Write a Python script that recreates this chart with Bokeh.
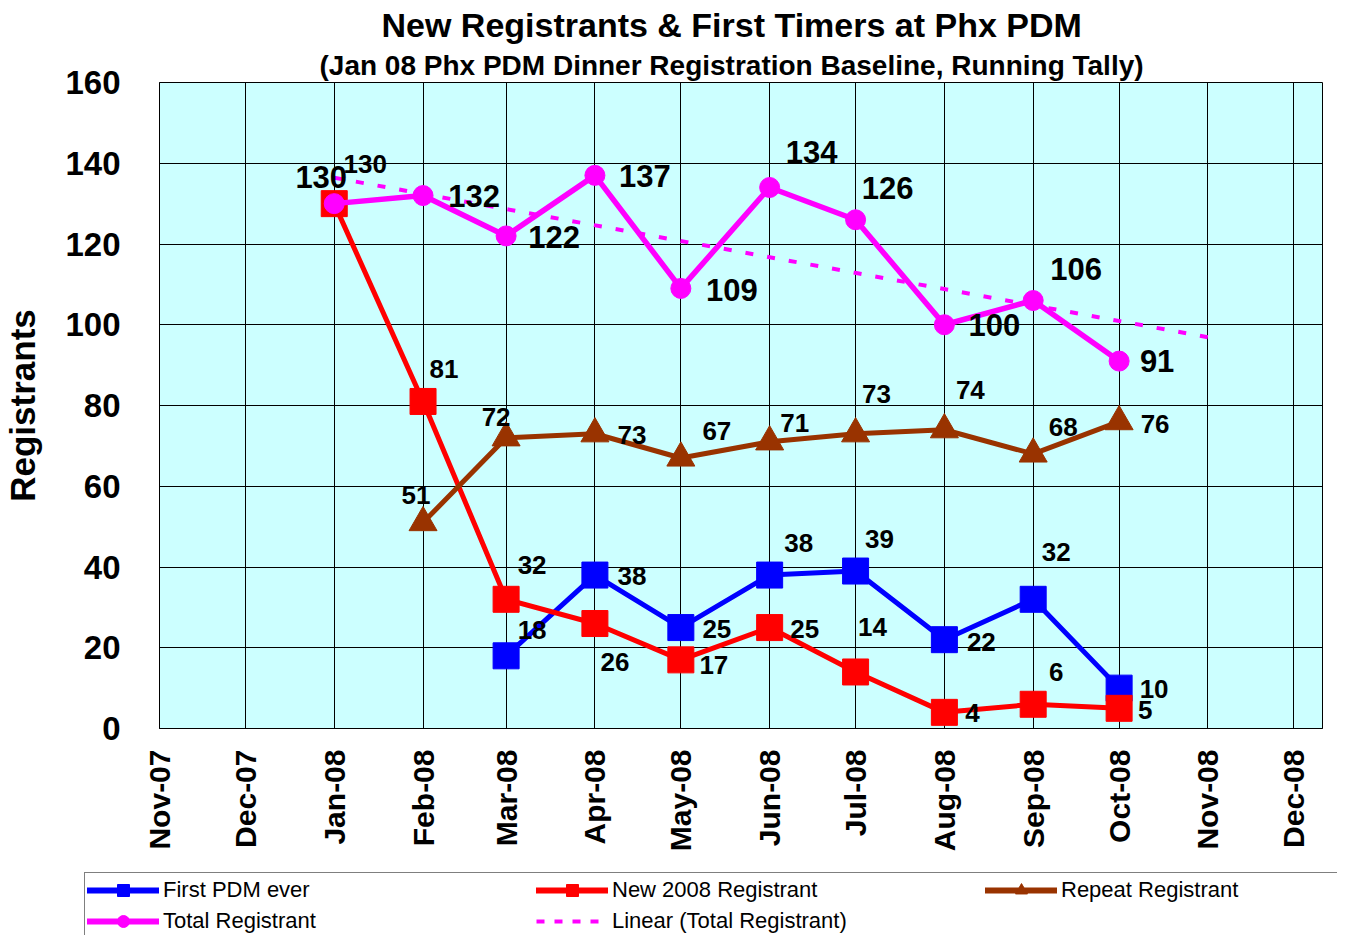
import numpy as np
from datetime import datetime
from bokeh.plotting import figure
from bokeh.layouts import column, row
from bokeh.core.properties import value
from bokeh.models import (ColumnDataSource, Range1d, FixedTicker, DatetimeTickFormatter,
                          LabelSet, Legend, LegendItem, Title)
from bokeh.embed import file_html
from bokeh.resources import INLINE

# ---------------- data ----------------
axis_months = ["Nov-07", "Dec-07", "Jan-08", "Feb-08", "Mar-08", "Apr-08", "May-08",
               "Jun-08", "Jul-08", "Aug-08", "Sep-08", "Oct-08", "Nov-08", "Dec-08"]

total_months = ["Jan-08", "Feb-08", "Mar-08", "Apr-08", "May-08", "Jun-08", "Jul-08",
                "Aug-08", "Sep-08", "Oct-08"]
total_values = [130, 132, 122, 137, 109, 134, 126, 100, 106, 91]

new_months = ["Jan-08", "Feb-08", "Mar-08", "Apr-08", "May-08", "Jun-08", "Jul-08",
              "Aug-08", "Sep-08", "Oct-08"]
new_values = [130, 81, 32, 26, 17, 25, 14, 4, 6, 5]

first_months = ["Mar-08", "Apr-08", "May-08", "Jun-08", "Jul-08", "Aug-08", "Sep-08", "Oct-08"]
first_values = [18, 38, 25, 38, 39, 22, 32, 10]

repeat_months = ["Feb-08", "Mar-08", "Apr-08", "May-08", "Jun-08", "Jul-08", "Aug-08",
                 "Sep-08", "Oct-08"]
repeat_values = [51, 72, 73, 67, 71, 73, 74, 68, 76]

trend_end_month = "Nov-08"   # Excel linear trendline, forecast forward one period
y_ticks = [0, 20, 40, 60, 80, 100, 120, 140, 160]

series_names = ["First PDM ever", "New 2008 Registrant", "Repeat Registrant",
                "Total Registrant", "Linear (Total Registrant)"]

# label offsets (pixels, placement only)
total_dx = [-13, 51, 48, 50, 51, 42, 32, 50, 43, 38]
total_dy = [27, 0, -1, -1, -2, 35, 32, 0, 32, 0]
new_dx = [31, 21, 26, 20, 33, 35, 17, 28, 23, 26]
new_dy = [40, 32, 34, -38, -5, -1, 45, -1, 32, -2]
first_dx = [26, 37, 36, 29, 24, 37, 23, 35]
first_dy = [26, -1, -1, 32, 32, -2, 47, -1]
repeat_dx = [-7, -10, 37, 36, 25, 21, 26, 30, 36]
repeat_dy = [28, 21, -1, 27, 19, 40, 40, 27, -2]

# ---------------- helpers ----------------
def to_dt(m):
    return datetime.strptime(m, "%b-%y")

EPOCH = datetime(1970, 1, 1)
def to_ms(d):
    return (d - EPOCH).total_seconds() * 1000.0

FONT = "Liberation Sans"
BLUE, RED, BROWN, MAGENTA = "#0000FF", "#FF0000", "#993300", "#FF00FF"

p = figure(width=1337, height=862, x_axis_type="datetime",
           x_range=Range1d(datetime(2007, 11, 1), datetime(2008, 12, 11)),
           y_range=Range1d(0, 160), title=None,
           output_backend="svg", toolbar_location=None,
           min_border_left=158, min_border_right=15, min_border_top=82, min_border_bottom=134,
           background_fill_color="#CCFFFF", border_fill_color="white",
           outline_line_color="black", outline_line_width=1)

# titles
p.add_layout(Title(text="(Jan 08 Phx PDM Dinner Registration Baseline, Running Tally)",
                   align="left", offset=160, text_font=FONT, text_font_size="28px",
                   text_font_style="bold", text_color="black", standoff=4), "above")
p.add_layout(Title(text="New Registrants & First Timers at Phx PDM",
                   align="left", offset=222, text_font=FONT, text_font_size="34px",
                   text_font_style="bold", text_color="black", standoff=4), "above")

# axes
x_ticks_ms = [to_ms(to_dt(m)) for m in axis_months]
fmt = "%b-%y"
p.xaxis.ticker = FixedTicker(ticks=x_ticks_ms)
p.xaxis.formatter = DatetimeTickFormatter(milliseconds=fmt, seconds=fmt, minsec=fmt, minutes=fmt,
                                          hourmin=fmt, hours=fmt, days=fmt, months=fmt, years=fmt)
p.xaxis.major_label_orientation = np.pi / 2
p.xaxis.major_label_text_font = FONT
p.xaxis.major_label_text_font_size = "30px"
p.xaxis.major_label_text_font_style = "bold"
p.xaxis.major_label_text_color = "black"
p.xaxis.major_label_standoff = 21

p.yaxis.ticker = FixedTicker(ticks=y_ticks)
p.yaxis.major_label_text_font = FONT
p.yaxis.major_label_text_font_size = "33px"
p.yaxis.major_label_text_font_style = "bold"
p.yaxis.major_label_text_color = "black"
p.yaxis.major_label_standoff = 39
p.yaxis.axis_label = "Registrants"
p.yaxis.axis_label_text_font = FONT
p.yaxis.axis_label_text_font_size = "35px"
p.yaxis.axis_label_text_font_style = "bold"
p.yaxis.axis_label_text_color = "black"
p.yaxis.axis_label_standoff = 20

for ax in (p.xaxis, p.yaxis):
    ax.major_tick_in = 0
    ax.major_tick_out = 0
    ax.minor_tick_in = 0
    ax.minor_tick_out = 0
    ax.axis_line_color = "black"

p.xgrid.ticker = FixedTicker(ticks=x_ticks_ms)
p.ygrid.ticker = FixedTicker(ticks=y_ticks)
for g in (p.xgrid, p.ygrid):
    g.grid_line_color = "black"
    g.grid_line_alpha = 1.0
    g.grid_line_width = 1

# ---------------- series ----------------
def make_src(months, values, dx, dy):
    return ColumnDataSource(dict(x=[to_dt(m) for m in months], y=values,
                                 lbl=[str(v) for v in values], dx=dx, dy=dy))

src_first = make_src(first_months, first_values, first_dx, first_dy)
src_new = make_src(new_months, new_values, new_dx, new_dy)
src_repeat = make_src(repeat_months, repeat_values, repeat_dx, repeat_dy)
src_total = make_src(total_months, total_values, total_dx, total_dy)

# trendline computed from the Total series (least squares on dates)
t0 = to_dt(total_months[0])
t_days = np.array([(to_dt(m) - t0).days for m in total_months], dtype=float)
slope, intercept = np.polyfit(t_days, np.array(total_values, dtype=float), 1)
trend_x = [t0, to_dt(trend_end_month)]
trend_y = [intercept + slope * (d - t0).days for d in trend_x]

p.line("x", "y", source=src_first, line_color=BLUE, line_width=5)
p.scatter("x", "y", source=src_first, marker="square", size=26, fill_color=BLUE, line_color=BLUE)
p.line("x", "y", source=src_new, line_color=RED, line_width=5)
p.scatter("x", "y", source=src_new, marker="square", size=26, fill_color=RED, line_color=RED)
p.line("x", "y", source=src_repeat, line_color=BROWN, line_width=5)
p.scatter("x", "y", source=src_repeat, marker="triangle", size=28, fill_color=BROWN, line_color=BROWN)
p.line(trend_x, trend_y, line_color=MAGENTA, line_width=4, line_dash="8 14")
p.line("x", "y", source=src_total, line_color=MAGENTA, line_width=5.5)
p.scatter("x", "y", source=src_total, marker="circle", size=20, fill_color=MAGENTA, line_color=MAGENTA)

# data labels
for src, fs in ((src_first, "26px"), (src_new, "26px"), (src_repeat, "26px"), (src_total, "31px")):
    p.add_layout(LabelSet(x="x", y="y", text="lbl", source=src, x_offset="dx", y_offset="dy",
                          text_align="center", text_baseline="middle", text_font=value(FONT),
                          text_font_size=value(fs), text_font_style="bold", text_color="black"))

# ---------------- legend strip (separate figure) ----------------
lg = figure(width=1337, height=73, x_range=Range1d(0, 1), y_range=Range1d(0, 1),
            output_backend="svg", toolbar_location=None, title=None,
            x_axis_location=None, y_axis_location=None,
            min_border_left=0, min_border_right=0, min_border_top=0, min_border_bottom=0,
            outline_line_color=None, background_fill_color="white", border_fill_color="white")
lg.xgrid.visible = False
lg.ygrid.visible = False

NAN = [float("nan")]   # legend-only renderers: nothing is drawn in the strip itself

def lg_line(color, width, dash="solid"):
    return lg.line(NAN, NAN, line_color=color, line_width=width, line_dash=dash,
                   line_cap="round" if dash == "solid" else "butt")

def lg_mark(marker, size, color):
    return lg.scatter(NAN, NAN, marker=marker, size=size, fill_color=color, line_color=color)

items = [
    LegendItem(label=series_names[0], renderers=[lg_line(BLUE, 6), lg_mark("square", 20, BLUE)]),
    LegendItem(label=series_names[1], renderers=[lg_line(RED, 6), lg_mark("square", 20, RED)]),
    LegendItem(label=series_names[2], renderers=[lg_line(BROWN, 6), lg_mark("triangle", 18, BROWN)]),
    LegendItem(label=series_names[3], renderers=[lg_line(MAGENTA, 6), lg_mark("circle", 13, MAGENTA)]),
    LegendItem(label=series_names[4], renderers=[lg_line(MAGENTA, 4, "8 10")]),
]
legend = Legend(items=items, location=(84, -4), orientation="horizontal", ncols=3,
                glyph_width=72, glyph_height=30, label_height=30, label_width=372,
                label_standoff=4, spacing=1, padding=2, margin=0,
                label_text_font=FONT, label_text_font_size="22px", label_text_color="black",
                border_line_color="black", border_line_width=1,
                background_fill_color="white", background_fill_alpha=1.0)
lg.add_layout(legend, "center")

layout = column(p, row(lg, spacing=0), spacing=0)
open("out.html", "w").write(file_html(layout, INLINE))
